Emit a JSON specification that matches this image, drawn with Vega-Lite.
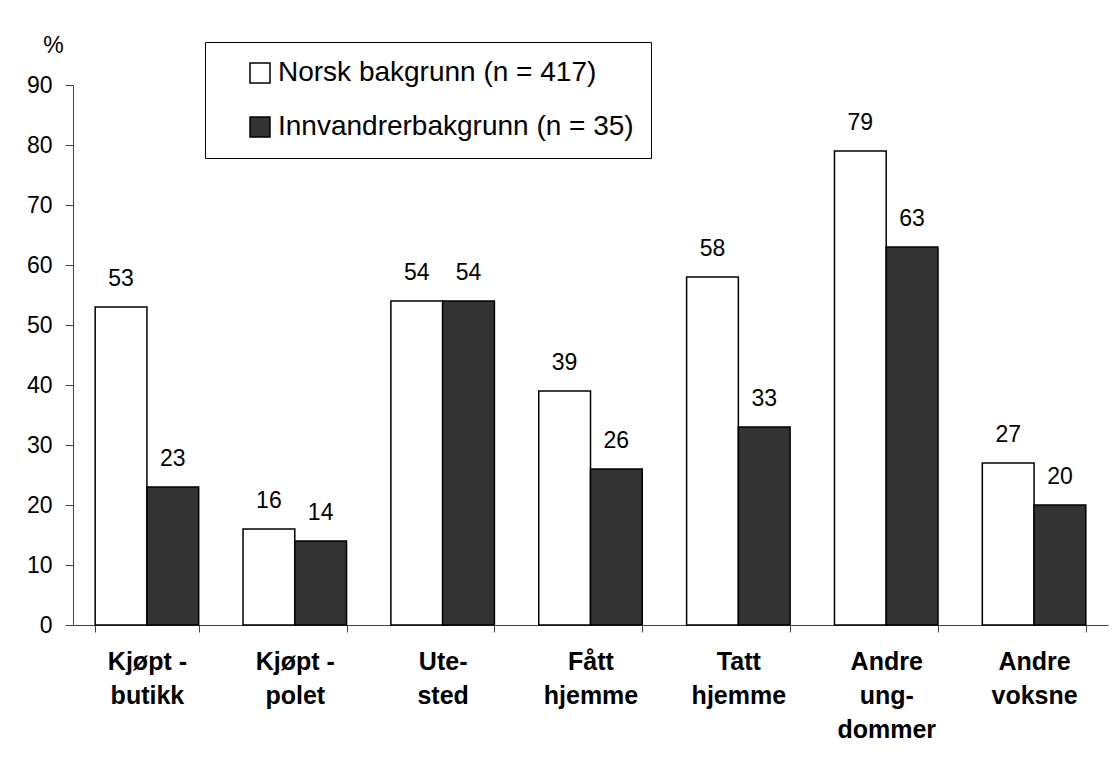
{
  "$schema": "https://vega.github.io/schema/vega-lite/v6.json",
  "autosize": "none",
  "width": 1035,
  "height": 540,
  "padding": {"left": 73, "top": 85, "right": 6, "bottom": 142},
  "background": "white",
  "config": {
    "view": {"stroke": null},
    "font": "Liberation Sans"
  },
  "data": {
    "values": [
      {"kategori": "Kjøpt -|butikk", "gruppe": "Norsk bakgrunn (n = 417)", "prosent": 53},
      {"kategori": "Kjøpt -|butikk", "gruppe": "Innvandrerbakgrunn (n = 35)", "prosent": 23},
      {"kategori": "Kjøpt -|polet", "gruppe": "Norsk bakgrunn (n = 417)", "prosent": 16},
      {"kategori": "Kjøpt -|polet", "gruppe": "Innvandrerbakgrunn (n = 35)", "prosent": 14},
      {"kategori": "Ute-|sted", "gruppe": "Norsk bakgrunn (n = 417)", "prosent": 54},
      {"kategori": "Ute-|sted", "gruppe": "Innvandrerbakgrunn (n = 35)", "prosent": 54},
      {"kategori": "Fått|hjemme", "gruppe": "Norsk bakgrunn (n = 417)", "prosent": 39},
      {"kategori": "Fått|hjemme", "gruppe": "Innvandrerbakgrunn (n = 35)", "prosent": 26},
      {"kategori": "Tatt|hjemme", "gruppe": "Norsk bakgrunn (n = 417)", "prosent": 58},
      {"kategori": "Tatt|hjemme", "gruppe": "Innvandrerbakgrunn (n = 35)", "prosent": 33},
      {"kategori": "Andre|ung-|dommer", "gruppe": "Norsk bakgrunn (n = 417)", "prosent": 79},
      {"kategori": "Andre|ung-|dommer", "gruppe": "Innvandrerbakgrunn (n = 35)", "prosent": 63},
      {"kategori": "Andre|voksne", "gruppe": "Norsk bakgrunn (n = 417)", "prosent": 27},
      {"kategori": "Andre|voksne", "gruppe": "Innvandrerbakgrunn (n = 35)", "prosent": 20}
    ]
  },
  "encoding": {
    "x": {
      "field": "kategori",
      "type": "nominal",
      "sort": null,
      "scale": {"paddingInner": 0.3, "paddingOuter": 0.15},
      "axis": {
        "title": null,
        "labelAngle": 0,
        "labelExpr": "split(datum.label, '|')",
        "labelFont": "Liberation Sans",
        "labelFontWeight": "bold",
        "labelFontSize": 25,
        "labelLineHeight": 34,
        "labelColor": "black",
        "labelPadding": 17,
        "labelBaseline": "top",
        "tickBand": "extent",
        "tickSize": 7,
        "tickColor": "#444",
        "domainColor": "#444",
        "labelLimit": 300
      }
    },
    "xOffset": {
      "field": "gruppe",
      "type": "nominal",
      "sort": ["Norsk bakgrunn (n = 417)", "Innvandrerbakgrunn (n = 35)"],
      "scale": {"paddingInner": 0, "paddingOuter": 0}
    },
    "y": {
      "field": "prosent",
      "type": "quantitative",
      "scale": {"domain": [0, 90], "nice": false},
      "axis": {
        "values": [0, 10, 20, 30, 40, 50, 60, 70, 80, 90],
        "grid": false,
        "title": "%",
        "titleAngle": 0,
        "titleX": -20,
        "titleY": -40,
        "titleAlign": "center",
        "titleBaseline": "middle",
        "titleFontSize": 23,
        "titleFontWeight": "normal",
        "titleFont": "Liberation Sans",
        "titleColor": "black",
        "labelFontSize": 23,
        "labelFont": "Liberation Sans",
        "labelColor": "black",
        "labelPadding": 13,
        "tickSize": 8,
        "tickColor": "#444",
        "domainColor": "#444"
      }
    }
  },
  "layer": [
    {
      "mark": {"type": "bar", "stroke": "black", "strokeWidth": 1.5},
      "encoding": {
        "fill": {
          "field": "gruppe",
          "type": "nominal",
          "scale": {
            "domain": ["Norsk bakgrunn (n = 417)", "Innvandrerbakgrunn (n = 35)"],
            "range": ["white", "#333333"]
          },
          "legend": {
            "title": null,
            "orient": "none",
            "legendX": 132,
            "legendY": -43,
            "strokeColor": "black",
            "fillColor": "white",
            "padding": 17,
            "symbolType": "square",
            "symbolSize": 400,
            "symbolStrokeColor": "black",
            "symbolStrokeWidth": 1.5,
            "symbolOffset": 24,
            "labelFontSize": 28,
            "labelFont": "Liberation Sans",
            "labelColor": "black",
            "labelOffset": 4,
            "labelLimit": 500,
            "rowPadding": 26
          }
        }
      }
    },
    {
      "mark": {"type": "text", "fontSize": 23, "font": "Liberation Sans", "baseline": "middle", "dy": -28, "color": "black"},
      "encoding": {
        "text": {"field": "prosent", "type": "quantitative"}
      }
    }
  ]
}
